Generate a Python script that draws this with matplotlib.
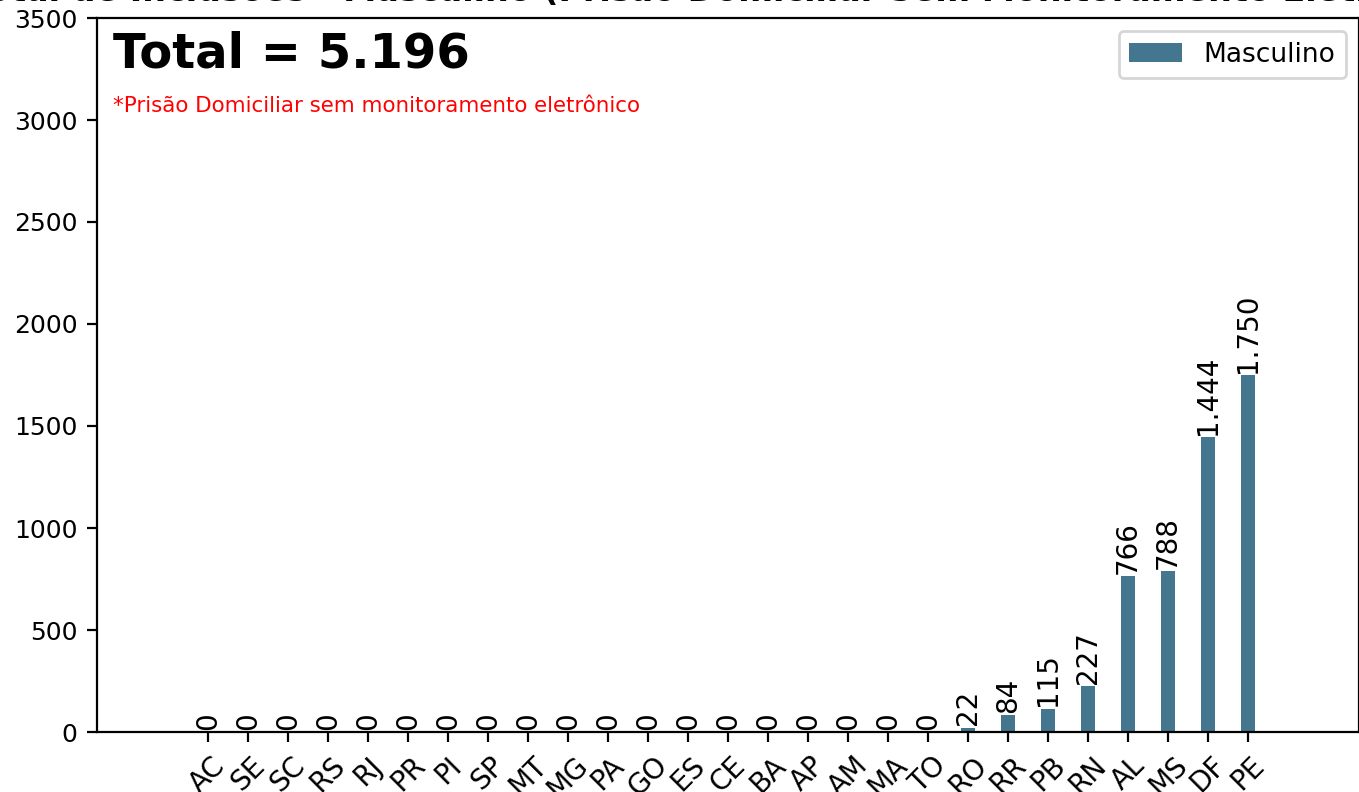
import numpy as np
import matplotlib.pyplot as plt

ufs = ['AC', 'SE', 'SC', 'RS', 'RJ', 'PR', 'PI', 'SP', 'MT', 'MG', 'PA', 'GO', 'ES',
       'CE', 'BA', 'AP', 'AM', 'MA', 'TO', 'RO', 'RR', 'PB', 'RN', 'AL', 'MS', 'DF', 'PE']
masculino = [0, 0, 0, 0, 0, 0, 0, 0, 0, 0, 0, 0, 0, 0, 0, 0, 0, 0, 0,
             22, 84, 115, 227, 766, 788, 1444, 1750]


def fmt(v):
    return f'{v:,}'.replace(',', '.')


fig, ax = plt.subplots(figsize=(6.795, 3.96), dpi=200)
fig.subplots_adjust(left=97 / 1359, right=1.0, bottom=1 - 732 / 792, top=1 - 18 / 792)

x = np.arange(len(ufs))
bars = ax.bar(x, masculino, width=0.37, color='#44778f', label='Masculino')
for b, v in zip(bars, masculino):
    ax.text(b.get_x() + b.get_width() / 2, v + 10, fmt(v), rotation=90,
            ha='center', va='bottom', fontsize=10)

ax.set_xticks(x)
ax.set_xticklabels(ufs, rotation=45, fontsize=10)
ax.tick_params(axis='y', labelsize=9)
ax.set_ylim(0, 3500)
ax.set_xlim(-2.775, len(ufs) - 1 + 2.775)
ax.set_title('Total de Inclusões - Masculino (Prisão Domiciliar Sem Monitoramento Eletrônico)',
             fontsize=12, fontweight='bold')

ax.text(0.013, 0.982, 'Total = ' + fmt(sum(masculino)), transform=ax.transAxes,
        fontsize=17.3, fontweight='bold', va='top')
ax.text(0.013, 0.877, '*Prisão Domiciliar sem monitoramento eletrônico',
        transform=ax.transAxes, fontsize=7.7, color='red', va='center')
ax.legend(loc='upper right', fontsize=9.5)

fig.savefig('out.png', dpi=200)
